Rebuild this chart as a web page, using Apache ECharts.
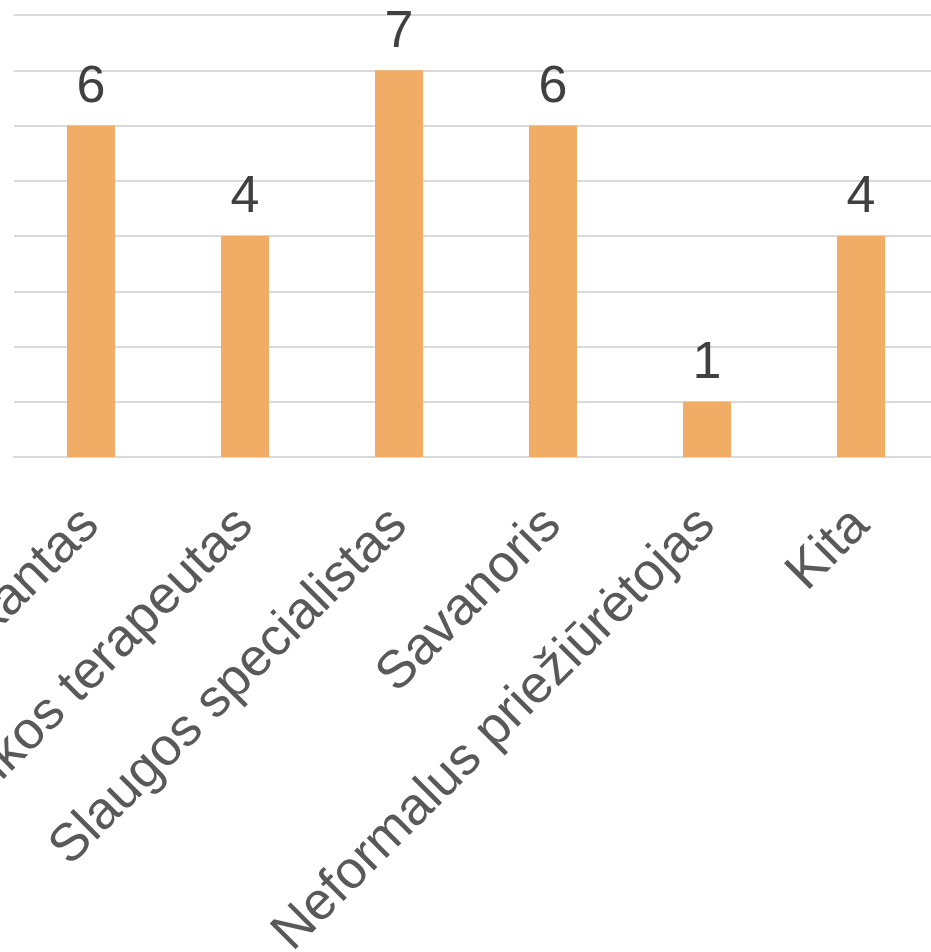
<!DOCTYPE html>
<html>
<head>
<meta charset="utf-8">
<script src="https://cdn.jsdelivr.net/npm/echarts@6/dist/echarts.min.js"></script>
<style>html,body{margin:0;padding:0;background:#fff;}#c{width:931px;height:952px;}</style>
</head>
<body>
<div id="c"></div>
<script>
const categories = ["Praktikantas", "Muzikos terapeutas", "Slaugos specialistas", "Savanoris", "Neformalus priežiūrėtojas", "Kita"];
const values = [6, 4, 7, 6, 1, 4];

const chart = echarts.init(document.getElementById('c'), null, {renderer: 'canvas'});
chart.setOption({
  animation: false,
  backgroundColor: '#ffffff',
  grid: {left: 14, right: -7, top: 15, bottom: 495, containLabel: false, outerBoundsMode: 'none'},
  xAxis: {
    type: 'category',
    data: categories,
    axisLine: {lineStyle: {color: '#d9d9d9', width: 2}},
    axisTick: {show: false},
    axisLabel: {
      rotate: 45,
      interval: 0,
      margin: 60,
      color: '#595959',
      fontSize: 53,
      fontFamily: 'Liberation Sans, Arial, sans-serif'
    }
  },
  yAxis: {
    type: 'value',
    min: 0,
    max: 8,
    interval: 1,
    axisLabel: {show: false},
    axisLine: {show: false},
    axisTick: {show: false},
    splitLine: {lineStyle: {color: '#d9d9d9', width: 2}}
  },
  series: [{
    type: 'bar',
    data: values,
    barWidth: 48,
    itemStyle: {color: '#f1ac66'},
    label: {
      show: true,
      position: 'top',
      distance: 12,
      color: '#404040',
      fontSize: 52,
      fontFamily: 'Liberation Sans, Arial, sans-serif'
    }
  }]
});
</script>
</body>
</html>
